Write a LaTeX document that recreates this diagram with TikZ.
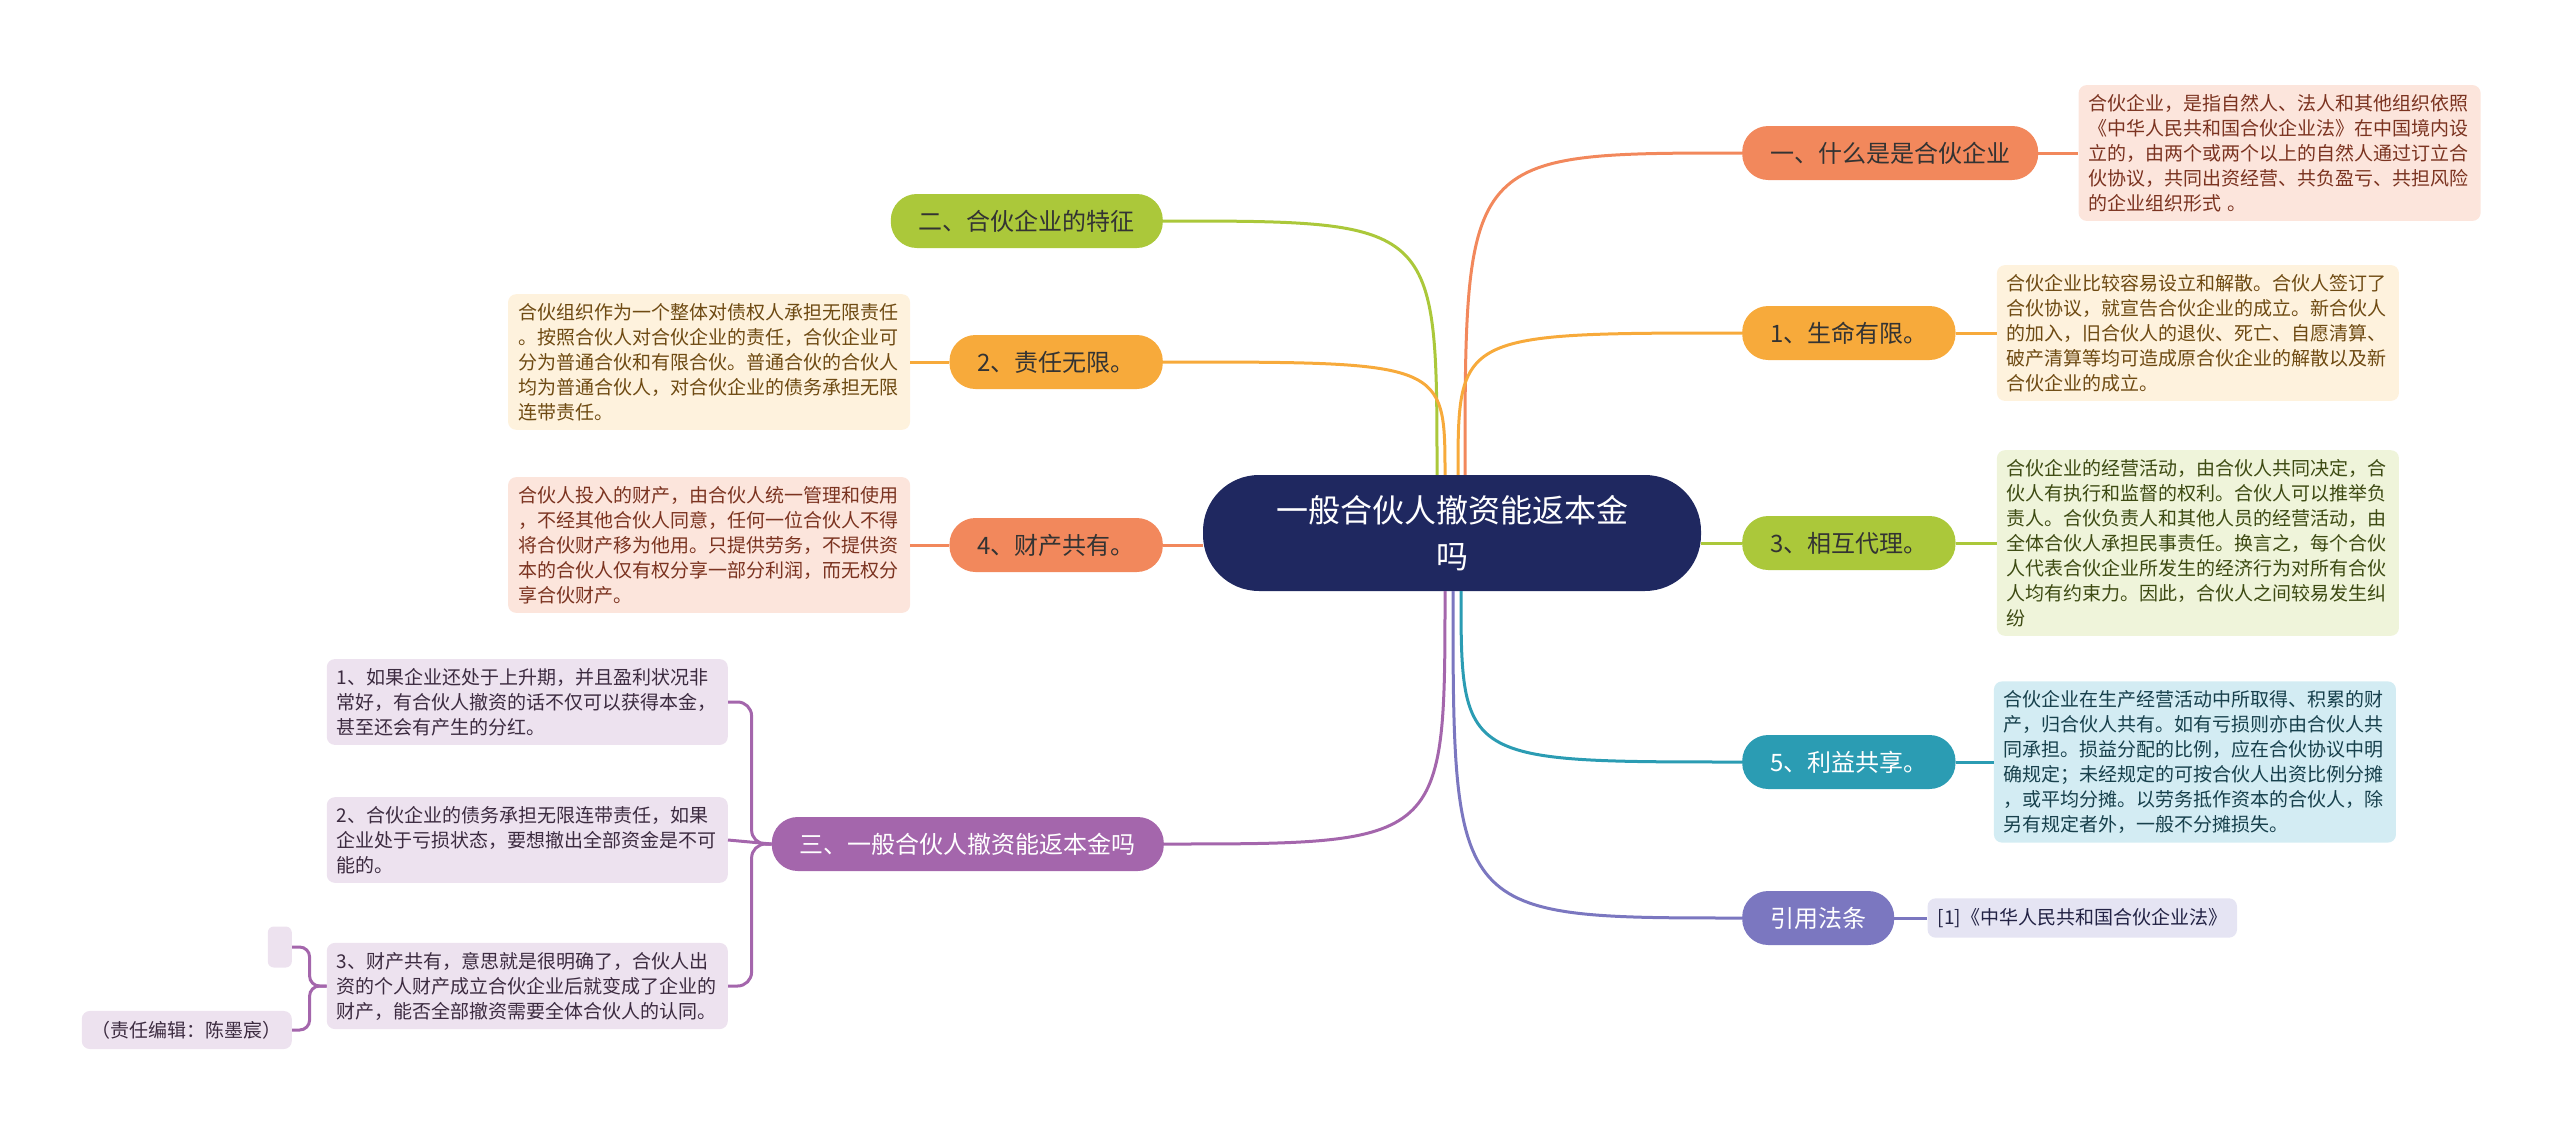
\documentclass[tikz,border=0pt]{standalone}
\usepackage{fontspec}
\newfontfamily\cjk{Noto Sans CJK SC}
\usetikzlibrary{positioning}
\definecolor{cNavy}{HTML}{1F2860}
\definecolor{cCoral}{HTML}{F2885C}
\definecolor{cAmber}{HTML}{F7AA3B}
\definecolor{cLime}{HTML}{ABC83A}
\definecolor{cTeal}{HTML}{2B9CB3}
\definecolor{cIndigo}{HTML}{7B77C0}
\definecolor{cPurple}{HTML}{A466AC}
\definecolor{pPink}{HTML}{FCE5DC}
\definecolor{pCream}{HTML}{FEF2DD}
\definecolor{pLime}{HTML}{EFF4DA}
\definecolor{pBlue}{HTML}{D3ECF3}
\definecolor{pIndigo}{HTML}{E5E4F3}
\definecolor{pLilac}{HTML}{EDE2EF}
\definecolor{tPink}{HTML}{7B3320}
\definecolor{tCream}{HTML}{6E4A12}
\definecolor{tLime}{HTML}{3D4A12}
\definecolor{tBlue}{HTML}{17404C}
\definecolor{tIndigo}{HTML}{222244}
\definecolor{tLilac}{HTML}{3C2B40}
\tikzset{
  hub/.style={fill=cNavy,text=white,rounded corners=56pt,minimum width=498pt,
    minimum height=116pt,align=center,font=\cjk\fontsize{32}{46}\selectfont},
  branch/.style={rounded corners=26pt,minimum height=54pt,inner xsep=28pt,
    inner ysep=0pt,text=black!80,font=\cjk\fontsize{24}{28}\selectfont},
  detail/.style={rounded corners=8pt,inner xsep=10pt,inner ysep=9pt,
    text width=382pt,align=left,font=\cjk\fontsize{19}{25}\selectfont},
  tag/.style={rounded corners=8pt,inner xsep=10pt,inner ysep=10pt,
    font=\cjk\fontsize{19}{25}\selectfont},
  link/.style={line width=3pt},
}
\begin{document}
\begin{tikzpicture}[x=1pt,y=-1pt]
\useasboundingbox (0,0) rectangle (2560,1135);

% centre
\node[hub] (hub) at (1452,533) {一般合伙人撤资能返本金\\吗};

% right side
\node[branch,fill=cCoral,anchor=west] (what) at (1742,153) {一、什么是是合伙企业};
\node[branch,fill=cAmber,anchor=west] (life) at (1742,333) {1、生命有限。};
\node[branch,fill=cLime,anchor=west] (agent) at (1742,543) {3、相互代理。};
\node[branch,fill=cTeal,text=white,anchor=west] (share) at (1742,762) {5、利益共享。};
\node[branch,fill=cIndigo,text=white,anchor=west] (law) at (1742,918) {引用法条};

\node[detail,fill=pPink,text=tPink,right=40pt of what] (whatTxt)
  {合伙企业，是指自然人、法人和其他组织依照\\《中华人民共和国合伙企业法》在中国境内设\\立的，由两个或两个以上的自然人通过订立合\\伙协议，共同出资经营、共负盈亏、共担风险\\的企业组织形式 。};
\node[detail,fill=pCream,text=tCream,right=41pt of life] (lifeTxt)
  {合伙企业比较容易设立和解散。合伙人签订了\\合伙协议，就宣告合伙企业的成立。新合伙人\\的加入，旧合伙人的退伙、死亡、自愿清算、\\破产清算等均可造成原合伙企业的解散以及新\\合伙企业的成立。};
\node[detail,fill=pLime,text=tLime,right=41pt of agent] (agentTxt)
  {合伙企业的经营活动，由合伙人共同决定，合\\伙人有执行和监督的权利。合伙人可以推举负\\责人。合伙负责人和其他人员的经营活动，由\\全体合伙人承担民事责任。换言之，每个合伙\\人代表合伙企业所发生的经济行为对所有合伙\\人均有约束力。因此，合伙人之间较易发生纠\\纷};
\node[detail,fill=pBlue,text=tBlue,right=38pt of share] (shareTxt)
  {合伙企业在生产经营活动中所取得、积累的财\\产，归合伙人共有。如有亏损则亦由合伙人共\\同承担。损益分配的比例，应在合伙协议中明\\确规定；未经规定的可按合伙人出资比例分摊\\，或平均分摊。以劳务抵作资本的合伙人，除\\另有规定者外，一般不分摊损失。};
\node[tag,fill=pIndigo,text=tIndigo,right=33pt of law] (lawTxt) {[1]《中华人民共和国合伙企业法》};

% left side
\node[branch,fill=cLime,anchor=east] (feat) at (1163,221) {二、合伙企业的特征};
\node[branch,fill=cAmber,anchor=east] (liab) at (1163,362) {2、责任无限。};
\node[branch,fill=cCoral,anchor=east] (prop) at (1163,545) {4、财产共有。};
\node[branch,fill=cPurple,text=white,anchor=east] (quit) at (1164,844) {三、一般合伙人撤资能返本金吗};

\node[detail,fill=pCream,text=tCream,left=39pt of liab] (liabTxt)
  {合伙组织作为一个整体对债权人承担无限责任\\。按照合伙人对合伙企业的责任，合伙企业可\\分为普通合伙和有限合伙。普通合伙的合伙人\\均为普通合伙人，对合伙企业的债务承担无限\\连带责任。};
\node[detail,fill=pPink,text=tPink,left=39pt of prop] (propTxt)
  {合伙人投入的财产，由合伙人统一管理和使用\\，不经其他合伙人同意，任何一位合伙人不得\\将合伙财产移为他用。只提供劳务，不提供资\\本的合伙人仅有权分享一部分利润，而无权分\\享合伙财产。};

\node[detail,fill=pLilac,text=tLilac,text width=381pt,anchor=east] (keepA) at (728,702)
  {1、如果企业还处于上升期，并且盈利状况非\\常好，有合伙人撤资的话不仅可以获得本金，\\甚至还会有产生的分红。};
\node[detail,fill=pLilac,text=tLilac,text width=381pt,anchor=east] (keepB) at (728,840)
  {2、合伙企业的债务承担无限连带责任，如果\\企业处于亏损状态，要想撤出全部资金是不可\\能的。};
\node[detail,fill=pLilac,text=tLilac,text width=381pt,anchor=east] (keepC) at (728,986)
  {3、财产共有，意思就是很明确了，合伙人出\\资的个人财产成立合伙企业后就变成了企业的\\财产，能否全部撤资需要全体合伙人的认同。};
\node[fill=pLilac,rounded corners=6pt,minimum width=24pt,minimum height=41pt,
  inner sep=0pt,anchor=east] (blank) at (292,947) {};
\node[tag,fill=pLilac,text=tLilac,anchor=east] (editor) at (292,1030) {（责任编辑：陈墨宸）};

% connectors from the centre
\coordinate (tWhat) at ([xshift=13pt]hub.north);
\coordinate (tLife) at ([xshift=6pt]hub.north);
\coordinate (tFeat) at ([xshift=-15pt]hub.north);
\coordinate (tLiab) at ([xshift=-7pt]hub.north);
\coordinate (bShare) at ([xshift=9pt]hub.south);
\coordinate (bLaw) at ([xshift=1pt]hub.south);
\coordinate (bQuit) at ([xshift=-7pt]hub.south);

\draw[link,cCoral] (tWhat) .. controls (tWhat |- what.west) .. (what.west);
\draw[link,cAmber] (tLife) .. controls (tLife |- life.west) .. (life.west);
\draw[link,cLime] (tFeat) .. controls (tFeat |- feat.east) .. (feat.east);
\draw[link,cAmber] (tLiab) .. controls (tLiab |- liab.east) .. (liab.east);
\draw[link,cTeal] (bShare) .. controls (bShare |- share.west) .. (share.west);
\draw[link,cIndigo] (bLaw) .. controls (bLaw |- law.west) .. (law.west);
\draw[link,cPurple] (bQuit) .. controls (bQuit |- quit.east) .. (quit.east);
\draw[link,cLime] (agent.west -| hub.east) -- (agent.west);
\draw[link,cCoral] (prop.east -| hub.west) -- (prop.east);

% branch to text
\draw[link,cCoral] (what) -- (whatTxt);
\draw[link,cAmber] (life) -- (lifeTxt);
\draw[link,cLime] (agent) -- (agentTxt);
\draw[link,cTeal] (share) -- (shareTxt);
\draw[link,cIndigo] (law) -- (lawTxt);
\draw[link,cAmber] (liab) -- (liabTxt);
\draw[link,cCoral] (prop) -- (propTxt);

% brackets
\draw[link,cPurple,rounded corners=14pt] (quit.west) -- ++(-20,0) |- (keepA.east);
\draw[link,cPurple] (quit.west) -- (keepB.east);
\draw[link,cPurple,rounded corners=14pt] (quit.west) -- ++(-20,0) |- (keepC.east);
\draw[link,cPurple,rounded corners=10pt] (keepC.west) -- ++(-17,0) |- (blank.east);
\draw[link,cPurple,rounded corners=10pt] (keepC.west) -- ++(-17,0) |- (editor.east);
\end{tikzpicture}
\end{document}
